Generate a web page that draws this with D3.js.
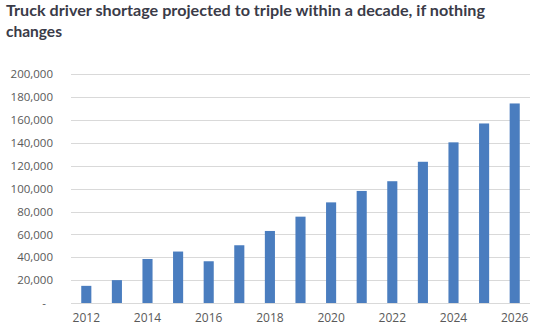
<!DOCTYPE html>
<html><head><meta charset="utf-8">
<script src="https://cdn.jsdelivr.net/npm/d3@7"></script>
<style>
html,body{margin:0;padding:0;background:#fff;}
svg{display:block;}
</style></head>
<body>
<svg id="chart" width="545" height="336"></svg>
<script>
const years = [2012,2013,2014,2015,2016,2017,2018,2019,2020,2021,2022,2023,2024,2025,2026];
const shortage = [15000,20000,38500,45000,36500,50500,63000,75500,88000,98000,106500,123500,140500,157000,174500];
const yTicks = [0,20000,40000,60000,80000,100000,120000,140000,160000,180000,200000];
const xTickLabels = [2012,2014,2016,2018,2020,2022,2024,2026];
const titleLines = ["Truck driver shortage projected to triple within a decade, if nothing","changes"];

(function(){
const svg = d3.select("#chart");
const mLeft = 71, mRight = 530, mTop = 74.3, mBottom = 303;

const x = d3.scaleBand().domain(years).range([mLeft, mRight]).paddingInner(0.67).paddingOuter(0.335);
const y = d3.scaleLinear().domain([0,200000]).range([mBottom, mTop]);

// title
svg.append("g").selectAll("text").data(titleLines).join("text")
  .attr("x", 6).attr("y", (d,i)=>15.5 + i*21.5)
  .attr("font-family", "Lato, 'Open Sans', sans-serif")
  .attr("font-weight", "bold").attr("font-size", 15.5)
  .attr("fill", "#3a3b48")
  .text(d=>d)
  .each(function(d,i){ if(i===0) d3.select(this).attr("textLength", 479).attr("lengthAdjust","spacingAndGlyphs"); });

// gridlines
svg.append("g").selectAll("line").data(yTicks).join("line")
  .attr("x1", mLeft).attr("x2", mRight)
  .attr("y1", d=>Math.round(y(d))+0.5).attr("y2", d=>Math.round(y(d))+0.5)
  .attr("stroke", "#d9d9d9").attr("stroke-width", 1);

// y axis
const yAxis = d3.axisLeft(y).tickValues(yTicks).tickSize(0).tickPadding(0)
  .tickFormat(d => d===0 ? "-" : d3.format(",")(d));
const gy = svg.append("g").attr("transform", `translate(${53},0)`).call(yAxis);
gy.select(".domain").remove();
gy.selectAll("text").attr("font-family","'Open Sans', sans-serif").attr("font-size", 11.5).attr("fill", "#595959");
gy.selectAll(".tick").filter(d=>d===0).select("text").attr("dx", -7);

// bars
svg.append("g").selectAll("rect").data(years).join("rect")
  .attr("x", d=>x(d)).attr("width", x.bandwidth())
  .attr("y", (d,i)=>y(shortage[i])).attr("height", (d,i)=>y(0)-y(shortage[i]))
  .attr("fill", "#4a7dbf");

// x axis
const xAxis = d3.axisBottom(x).tickValues(xTickLabels).tickSize(0).tickPadding(0);
const gx = svg.append("g").attr("transform", `translate(0,${mBottom+10})`).call(xAxis);
gx.select(".domain").remove();
gx.selectAll("text").attr("font-family","'Open Sans', sans-serif").attr("font-size", 12).attr("fill", "#595959");
})();
</script>
</body></html>
